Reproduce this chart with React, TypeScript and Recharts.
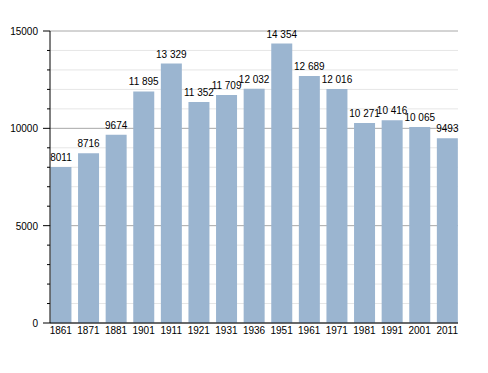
import React from "react";
import {
  BarChart,
  Bar,
  XAxis,
  YAxis,
  CartesianGrid,
  LabelList,
} from "recharts";

// 人口の推移（国勢調査年ごと）
const years = ["1861", "1871", "1881", "1901", "1911", "1921", "1931", "1936", "1951", "1961", "1971", "1981", "1991", "2001", "2011"];
const population = [8011, 8716, 9674, 11895, 13329, 11352, 11709, 12032, 14354, 12689, 12016, 10271, 10416, 10065, 9493];
const yTicks = [0, 1000, 2000, 3000, 4000, 5000, 6000, 7000, 8000, 9000, 10000, 11000, 12000, 13000, 14000, 15000];

const data = years.map((year, i) => ({ year, value: population[i] }));

if (typeof document !== "undefined") {
  document.body.style.margin = "0";
}

const FONT = "'Liberation Sans', Arial, sans-serif";

// 1万以上は空白区切り
const formatValue = (v: number): string =>
  v >= 10000 ? String(v).replace(/\B(?=(\d{3})+(?!\d))/g, " ") : String(v);

const YTick = (props: any) => {
  const { x, y, payload } = props;
  const major = payload.value % 5000 === 0;
  return (
    <g>
      <line x1={x - (major ? 7 : 3)} x2={x} y1={y} y2={y} stroke="#000" />
      {major && (
        <text x={x - 12} y={y} dy={4} textAnchor="end" fontSize={10} fill="#000" fontFamily={FONT}>
          {payload.value}
        </text>
      )}
    </g>
  );
};

// 5000ごとの線は濃く、1000ごとは薄く
const GridLine = (props: any) => {
  const { x1, x2, y1, y2, index } = props;
  const major = index % 5 === 0;
  return (
    <line x1={x1} x2={x2} y1={y1} y2={y2} stroke={major ? "#a8a8a8" : "#e6e6e6"} strokeWidth={1} fill="none" />
  );
};

// 棒の上の値ラベル（折り返しなし）
const ValueLabel = (props: any) => {
  const { x, y, width, value } = props;
  return (
    <text
      x={Number(x) + Number(width) / 2}
      y={Number(y) - 6}
      textAnchor="middle"
      fontSize={10}
      fill="#000"
      fontFamily={FONT}
    >
      {formatValue(Number(value))}
    </text>
  );
};

export default function App() {
  return (
    <div style={{ width: 488, height: 373, background: "#fff" }}>
      <BarChart
        width={488}
        height={373}
        data={data}
        margin={{ top: 31, right: 30, left: 0, bottom: 30 }}
        barCategoryGap="12.5%"
      >
        <CartesianGrid vertical={false} horizontal={GridLine} />
        <XAxis
          dataKey="year"
          height={20}
          tickSize={0}
          tickMargin={4}
          axisLine={{ stroke: "#000" }}
          tickLine={false}
          padding={{ left: -3, right: -3 }}
          tick={{ fontSize: 10, fill: "#000", fontFamily: FONT }}
          interval={0}
        />
        <YAxis
          width={50}
          domain={[0, 15000]}
          ticks={yTicks}
          interval={0}
          tickSize={0}
          tickMargin={0}
          tickLine={false}
          axisLine={{ stroke: "#000" }}
          tick={<YTick />}
        />
        <Bar dataKey="value" fill="#9bb5d0" isAnimationActive={false}>
          <LabelList dataKey="value" content={<ValueLabel />} />
        </Bar>
      </BarChart>
    </div>
  );
}
